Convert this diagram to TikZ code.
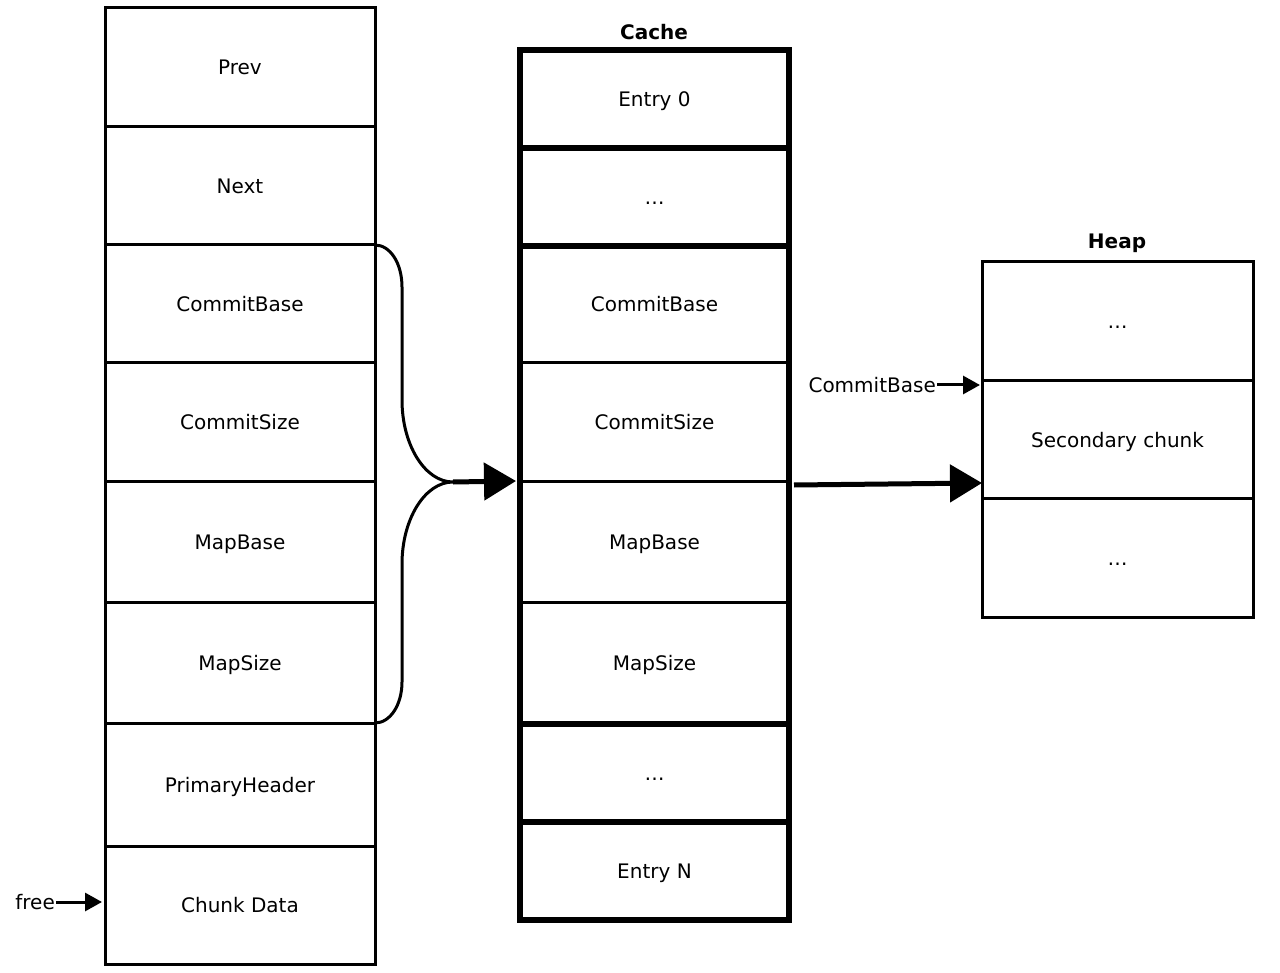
\documentclass[tikz,border=0pt]{standalone}
\usepackage{fontspec}
\setmainfont{DejaVu Sans}
\usetikzlibrary{arrows.meta, positioning}

\begin{document}
\begin{tikzpicture}[x=1pt, y=-1pt,
    cell/.style={draw, rectangle, line width=3pt, inner sep=0pt, outer sep=0pt,
        minimum width=270pt, text height=15pt, text depth=0pt,
        font=\fontsize{20}{24}\selectfont},
    thickcell/.style={cell, line width=6.5pt, minimum width=269pt},
    title/.style={font=\bfseries\fontsize{20}{24}\selectfont},
    lbl/.style={font=\fontsize{20}{24}\selectfont, inner sep=1pt},
    bigarrow/.style={line width=5pt, -{Triangle[length=32pt, width=37pt]}},
    smallarrow/.style={line width=3pt, -{Triangle[length=17pt, width=18pt]}}]
    \useasboundingbox (0,0) rectangle (1280,973);

    % Secondary header
    \foreach \nm/\txt/\t/\b in {lprev/Prev/8/127, lnext/Next/127/245,
        lcb/CommitBase/245/363, lcs/CommitSize/363/481, lmb/MapBase/481/602,
        lms/MapSize/602/723, lph/PrimaryHeader/723/846, lcd/Chunk Data/846/964}
        \node[cell, minimum height={(\b-\t)*1pt}] (\nm) at (240,{(\t+\b)/2}) {\txt};

    \node[lbl, anchor=east] (free) at (56,902) {free};
    \draw[smallarrow, shorten >=3pt] (free.east) -- (free.east -| lcd.west);

    % Cache
    \node[title] (cache) at (654,32) {Cache};
    \foreach \nm/\txt/\t/\b in {ccb/CommitBase/246/363, ccs/CommitSize/363/481,
        cmb/MapBase/481/602, cms/MapSize/602/724}
        \node[cell, minimum width=269pt, minimum height={(\b-\t)*1pt}] (\nm) at (654.5,{(\t+\b)/2}) {\txt};
    \foreach \nm/\txt/\t/\b in {ce0/Entry 0/50/148, cd1/\dots/148/246,
        cd2/\dots/724/822, cen/Entry N/822/920}
        \node[thickcell, minimum height={(\b-\t)*1pt}] (\nm) at (654.5,{(\t+\b)/2}) {\txt};
    \draw[line width=6.5pt] (ccb.north west) rectangle (cms.south east);

    % Heap
    \node[title] (heap) at (1117,243) {Heap};
    \foreach \nm/\txt/\t/\b in {hd1/\dots/262/381, hsc/Secondary chunk/381/498,
        hd2/\dots/498/617}
        \node[cell, minimum width=271pt, minimum height={(\b-\t)*1pt}] (\nm) at (1117.5,{(\t+\b)/2}) {\txt};

    \node[lbl, anchor=east] (cbase) at (937,385) {CommitBase};
    \draw[smallarrow, shorten >=2pt] (cbase.east) -- (cbase.east -| hsc.west);

    % brace and arrows
    \coordinate (join) at (453,482);
    \draw[line width=3pt] (lcb.north east) .. controls (390,245) and (402,263) .. (402,287)
        -- (402,400) .. controls (402,445) and (425,482) .. (join)
        .. controls (425,482) and (402,519) .. (402,564)
        -- (402,682) .. controls (402,705) and (390,723) .. (lms.south east);
    \draw[bigarrow] (join) -- ([xshift=-4pt]ccs.south west);
    \draw[bigarrow] ([xshift=5pt, yshift=-4pt]cmb.north east) -- ([yshift=15pt]hsc.south west);
\end{tikzpicture}
\end{document}
